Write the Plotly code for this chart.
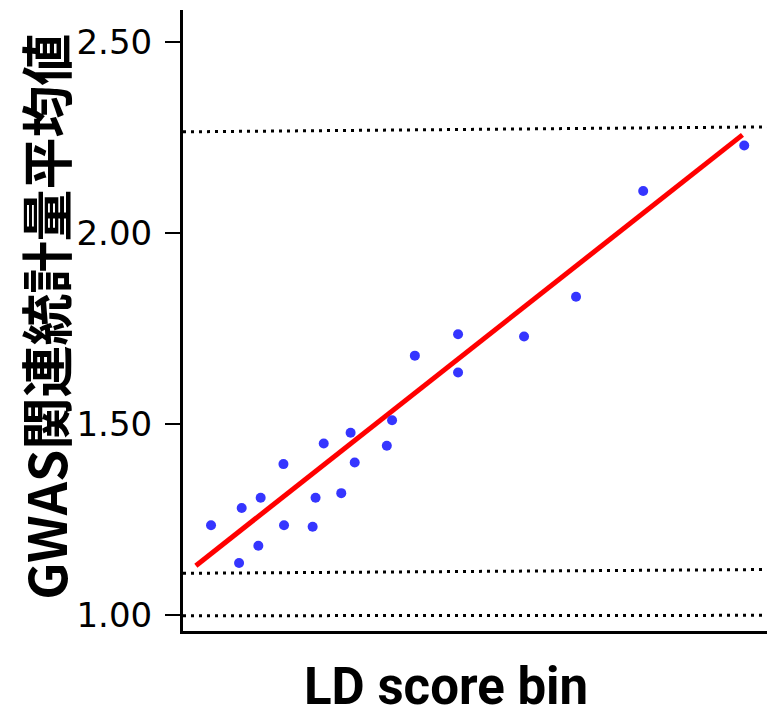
import plotly.graph_objects as go

# LD score bin position (arbitrary units, axis has no tick labels) and mean GWAS statistic
bin_x = [4.8, 10.05, 9.6, 13.3, 12.9, 17.2, 17.3, 22.7, 22.2, 24.1, 27.1,
         28.7, 29.4, 34.9, 35.8, 39.7, 47.1, 47.1, 58.4, 67.3, 78.8, 96.1]
mean_stat = [1.235, 1.280, 1.136, 1.307, 1.181, 1.395, 1.235, 1.307, 1.231, 1.449, 1.319,
             1.477, 1.399, 1.443, 1.510, 1.679, 1.735, 1.635, 1.729, 1.833, 2.110, 2.229]

# regression line
fit_x = [2.2, 95.8]
fit_y = [1.129, 2.257]

# reference (dotted) lines
ref_x = [0, 100]
upper_ref = [2.265, 2.278]
lower_ref = [1.109, 1.119]
null_ref = [0.998, 0.999]

y_ticks = [1.0, 1.5, 2.0, 2.5]
y_tick_text = ["1.00", "1.50", "2.00", "2.50"]

y_title = "GWAS関連統計量平均値"
x_title = "LD score bin"

fig = go.Figure()
for ref in (upper_ref, lower_ref, null_ref):
    fig.add_trace(go.Scatter(x=ref_x, y=ref, mode="lines",
                             line=dict(color="black", width=3, dash="3px,5px"),
                             hoverinfo="skip", showlegend=False))
fig.add_trace(go.Scatter(x=fit_x, y=fit_y, mode="lines",
                         line=dict(color="#FF0000", width=5), showlegend=False))
fig.add_trace(go.Scatter(x=bin_x, y=mean_stat, mode="markers",
                         marker=dict(color="#3535FF", size=10), showlegend=False))

fig.update_layout(
    width=767, height=715,
    margin=dict(l=183, r=0, t=10, b=84),
    paper_bgcolor="white", plot_bgcolor="white",
    xaxis=dict(range=[0, 100], showgrid=False, zeroline=False, showticklabels=False,
               ticks="", showline=True, linecolor="black", linewidth=3),
    yaxis=dict(range=[0.958, 2.584], showgrid=False, zeroline=False,
               tickvals=y_ticks, ticktext=y_tick_text, ticks="outside", ticklen=15,
               tickwidth=2, tickcolor="black", showline=True, linecolor="black", linewidth=3,
               tickfont=dict(family="DejaVu Sans", size=34, color="black"),
               ticklabelstandoff=6),
    annotations=[
        dict(text=y_title, xref="paper", yref="paper", x=0, y=0.506, xshift=-138,
             xanchor="center", yanchor="middle", textangle=-90, showarrow=False,
             font=dict(family="Noto Sans CJK JP", size=52, color="black", weight="bold")),
        dict(text=x_title, xref="paper", yref="paper", x=0.45, y=0, yshift=-55,
             xanchor="center", yanchor="middle", showarrow=False,
             font=dict(family="Roboto", size=51, color="black", weight="bold")),
    ],
)

fig.write_html("out.html", config={"displayModeBar": False},
               post_script="document.body.style.margin='0';document.body.style.overflow='hidden';")
